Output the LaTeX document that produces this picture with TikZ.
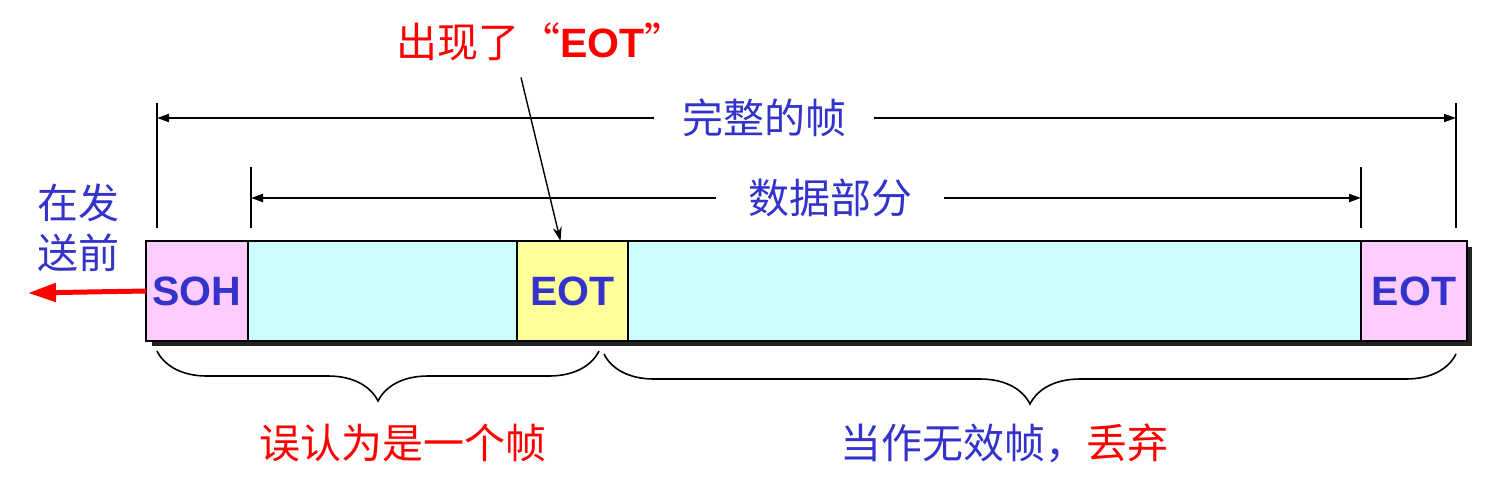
\documentclass[tikz,border=0pt]{standalone}
\usepackage{fontspec}
\setmainfont{Liberation Sans}
\newfontfamily\cjk{Noto Sans CJK SC}
\usetikzlibrary{arrows.meta, positioning, decorations.pathreplacing}
\definecolor{textblue}{RGB}{51, 51, 204}
\definecolor{pinkbox}{RGB}{255, 204, 255}
\definecolor{cyanbox}{RGB}{204, 255, 255}
\definecolor{yellowbox}{RGB}{255, 255, 153}
\definecolor{shadowgray}{RGB}{34, 34, 34}

\begin{document}
\begin{tikzpicture}[x=0.5pt, y=-0.5pt,
    seg/.style={draw, line width=1.3pt, minimum height=50pt, inner sep=0pt, outer sep=0pt,
        font=\fontsize{20.5}{22}\selectfont\bfseries, text=textblue},
    cjklabel/.style={font=\cjk\fontsize{20.5}{25}\selectfont, inner sep=0pt},
    dimline/.style={line width=1pt, -{Triangle[length=6pt, width=4pt]}},
    tick/.style={line width=1pt},
    curly/.style={line width=0.8pt, decorate, decoration={brace, mirror, amplitude=25pt}}]
    \useasboundingbox (0,0) rectangle (1488,493);

    % Frame shadow
    \fill[shadowgray] (152,247) rectangle (1472,346);

    % Frame pieces
    \node[seg, fill=pinkbox, minimum width=51pt, anchor=north west] (soh) at (146,241) {SOH};
    \node[seg, fill=cyanbox, minimum width=134.5pt, right=0pt of soh] (dataA) {};
    \node[seg, fill=yellowbox, minimum width=55.5pt, right=0pt of dataA] (eotA) {EOT};
    \node[seg, fill=cyanbox, minimum width=366.5pt, right=0pt of eotA] (dataB) {};
    \node[seg, fill=pinkbox, minimum width=53pt, right=0pt of dataB] (eotB) {EOT};

    % Sending direction
    \coordinate (sendTip) at (28,293);
    \draw[red, line width=2.5pt, -{Triangle[length=14pt, width=9pt]}] (soh.west) -- (sendTip);
    \node[cjklabel, text=textblue, align=center] (sendNote) at (79,228) {在发\\送前};

    % Whole frame
    \coordinate (fullL) at (157,118);
    \coordinate (fullR) at (1456,118);
    \draw[tick] (157,103) -- (157,228);
    \draw[tick] (1456,103) -- (1456,228);
    \node[cjklabel, text=textblue, inner xsep=14pt] (fullTxt) at (764,118) {完整的帧};
    \draw[dimline] (fullTxt.west) -- (fullL);
    \draw[dimline] (fullTxt.east) -- (fullR);

    % Data part
    \coordinate (dataL) at (251,198);
    \coordinate (dataR) at (1361,198);
    \draw[tick] (251,167) -- (251,228);
    \draw[tick] (1361,167) -- (1361,228);
    \node[cjklabel, text=textblue, inner xsep=16pt] (dataTxt) at (830,198) {数据部分};
    \draw[dimline] (dataTxt.west) -- (dataL);
    \draw[dimline] (dataTxt.east) -- (dataR);

    % False EOT
    \node[cjklabel, text=red] (eotNote) at (541,42) {出现了“{\fontspec{Liberation Sans}\bfseries EOT}”};
    \draw[line width=0.7pt, -{Stealth[length=7pt, width=4.5pt]}] ([xshift=-10pt, yshift=-8pt]eotNote.south) -- ([xshift=-6pt]eotA.north);

    % Braces
    \draw[curly] (157,351) -- (599,351) coordinate[midway] (braceA);
    \draw[curly] (604,354) -- (1456,354) coordinate[midway] (braceB);
    \node[cjklabel, text=red] (falseNote) at (403,443) {误认为是一个帧};
    \node[cjklabel, text=textblue] (dropNote) at (1004,443) {当作无效帧，\textcolor{red}{丢弃}};
\end{tikzpicture}
\end{document}
